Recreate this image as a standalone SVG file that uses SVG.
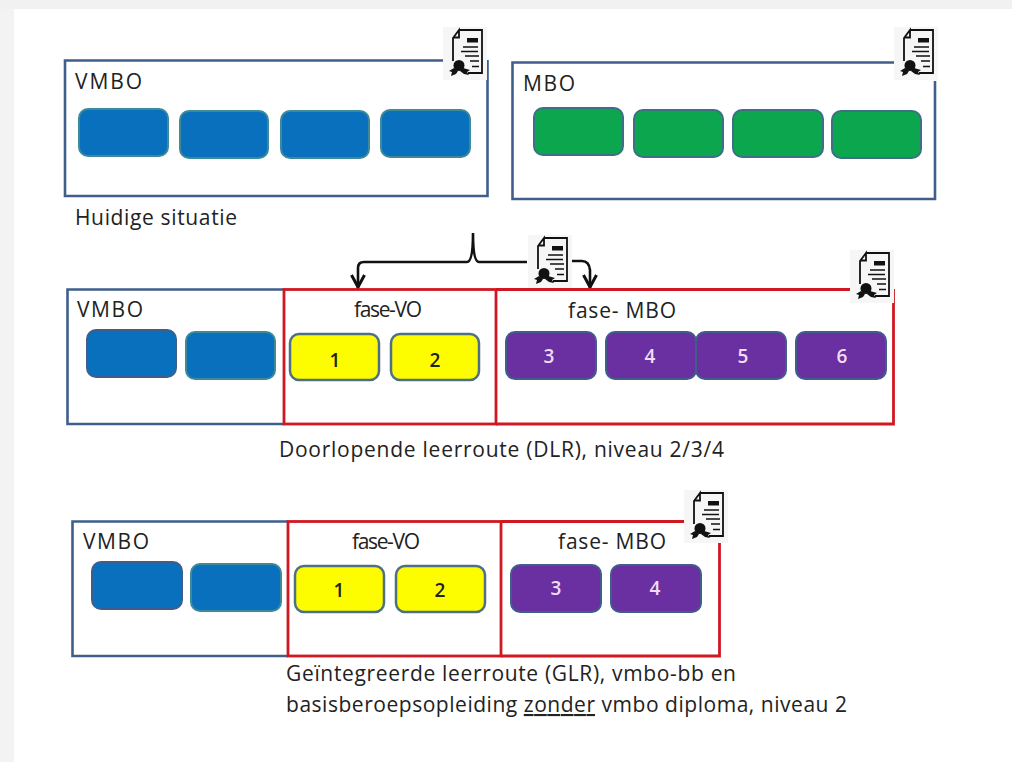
<svg xmlns="http://www.w3.org/2000/svg" width="1012" height="762" viewBox="0 0 1012 762">
<style>
text{font-family:"Open Sans","Liberation Sans",sans-serif;font-size:21px;fill:#222}
.nv{fill:none;stroke:#3f5f8a;stroke-width:2.600}
.rd{fill:none;stroke:#d01822;stroke-width:2.800}
.b{fill:#0870bd;stroke:#3f8a98;stroke-width:2}
.bd{fill:#0870bd;stroke:#3f5f8a;stroke-width:2}
.g{fill:#0ca64e;stroke:#3f6f86;stroke-width:2}
.y{fill:#fdfd00;stroke:#4f7080;stroke-width:2.500}
.p{fill:#6a2fa0;stroke:#3f5f8a;stroke-width:2}
.n{font-weight:600;font-size:19px;text-anchor:middle}
.w{fill:#f0dcf5}
.c{fill:none;stroke:#111;stroke-width:2.600}
</style>
<defs>
<symbol id="cert" width="44" height="54" viewBox="0 0 44 54" overflow="visible">
<rect width="44" height="53" fill="#f6f6f6"/>
<path d="M16 3H39V46H25M10 34V11L16 3V10.500H10" fill="none" stroke="#111" stroke-width="1.800"/>
<rect x="24" y="11" width="11" height="4.500" fill="#111"/>
<path d="M20 20H35M18 24.500H35M22 29H36M27 34H36M29 39.500H36" stroke="#111" stroke-width="1.500"/>
<circle cx="16" cy="38.500" r="5.500" fill="#111"/>
<path d="M11 41L6 44L9 45L8 49L13 47L15 44ZM20 41L27 43L24 45L26 48L21 47L17 44Z" fill="#111"/>
</symbol>
<marker id="ah" markerUnits="userSpaceOnUse" markerWidth="20" markerHeight="20" refX="16" refY="10" orient="auto"><path d="M3 3.500L15 10L3 16.500" fill="none" stroke="#111" stroke-width="3"/></marker>
</defs>
<rect width="1012" height="762" fill="#fff"/>
<rect width="1012" height="9" fill="#f1f1f1"/>
<rect y="9" width="14" height="753" fill="#f3f3f3"/>
<g id="connectors">
<path class="c" d="M527 262H479Q473 262 473 233Q473 262 467 262H364Q358 262 358 268V288" marker-end="url(#ah)"/>
<path class="c" d="M572 261H582Q589 261 590 270V288" marker-end="url(#ah)"/>
</g>
<g id="vmbo-top">
<path class="nv" d="M443 60.500H65V196H487.500V60"/>
<use href="#cert" x="443" y="27"/>
<text x="75" y="89" textLength="67">VMBO</text>
<rect class="b" x="79" y="109" width="89" height="47" rx="9"/>
<rect class="b" x="180" y="111" width="88" height="47" rx="9"/>
<rect class="b" x="281" y="111" width="88" height="47" rx="9"/>
<rect class="b" x="381" y="110" width="89" height="47" rx="9"/>
</g>
<g id="mbo-top">
<path class="nv" d="M894 62.500H512.500V199H935V81"/>
<use href="#cert" x="894" y="27"/>
<text x="523" y="91" textLength="52">MBO</text>
<rect class="g" x="534" y="108" width="89" height="47" rx="9"/>
<rect class="g" x="634" y="110" width="89" height="47" rx="9"/>
<rect class="g" x="733" y="110" width="90" height="47" rx="9"/>
<rect class="g" x="832" y="111" width="89" height="47" rx="9"/>
</g>
<text id="caption-1" x="75" y="225" textLength="162">Huidige situatie</text>
<g id="dlr-vmbo">
<path class="nv" d="M284 289.500H67.500V424H284"/>
<text x="77" y="317" textLength="66">VMBO</text>
<rect class="bd" x="87" y="330" width="89" height="47" rx="9"/>
<rect class="b" x="186" y="332" width="89" height="47" rx="9"/>
</g>
<g id="dlr-fase-vo">
<rect class="rd" x="284" y="289.500" width="212" height="134.500"/>
<text x="354" y="317" textLength="68">fase-VO</text>
<rect class="y" x="290" y="334" width="89" height="46" rx="9"/>
<rect class="y" x="391" y="334" width="88" height="46" rx="9"/>
<text class="n" x="335" y="367">1</text>
<text class="n" x="435" y="367">2</text>
</g>
<g id="dlr-fase-mbo">
<path class="rd" d="M496 289.500H852M893.500 289V424H496"/>
<use href="#cert" x="850" y="250"/>
<text x="568" y="318" textLength="108">fase- MBO</text>
<rect class="p" x="506" y="332" width="90" height="47" rx="9"/>
<rect class="p" x="606" y="332" width="90" height="47" rx="9"/>
<rect class="p" x="696" y="332" width="90" height="47" rx="9"/>
<rect class="p" x="796" y="332" width="90" height="47" rx="9"/>
<text class="n w" x="549" y="363">3</text>
<text class="n w" x="650" y="363">4</text>
<text class="n w" x="743" y="363">5</text>
<text class="n w" x="842" y="363">6</text>
</g>
<use href="#cert" x="528" y="235"/>
<text id="caption-2" x="279" y="457" textLength="445">Doorlopende leerroute (DLR), niveau 2/3/4</text>
<g id="glr-vmbo">
<path class="nv" d="M288 521.500H72.500V656H288"/>
<text x="83" y="549" textLength="66">VMBO</text>
<rect class="bd" x="92" y="562" width="90" height="47" rx="9"/>
<rect class="b" x="191" y="564" width="90" height="47" rx="9"/>
</g>
<g id="glr-fase-vo">
<rect class="rd" x="288" y="521.500" width="213" height="134.500"/>
<text x="352" y="549" textLength="68">fase-VO</text>
<rect class="y" x="295" y="566" width="89" height="46" rx="9"/>
<rect class="y" x="396" y="566" width="89" height="46" rx="9"/>
<text class="n" x="339" y="597">1</text>
<text class="n" x="440" y="597">2</text>
</g>
<g id="glr-fase-mbo">
<path class="rd" d="M501 521.500H686M719.500 541V656H501"/>
<use href="#cert" x="684" y="490"/>
<text x="558" y="549" textLength="108">fase- MBO</text>
<rect class="p" x="511" y="565" width="90" height="47" rx="9"/>
<rect class="p" x="611" y="565" width="90" height="47" rx="9"/>
<text class="n w" x="556" y="595">3</text>
<text class="n w" x="655" y="595">4</text>
</g>
<text id="caption-3a" x="286" y="681" textLength="450">Geïntegreerde leerroute (GLR), vmbo-bb en</text>
<text id="caption-3b" x="286" y="712" textLength="561">basisberoepsopleiding <tspan text-decoration="underline">zonder</tspan> vmbo diploma, niveau 2</text>
</svg>
